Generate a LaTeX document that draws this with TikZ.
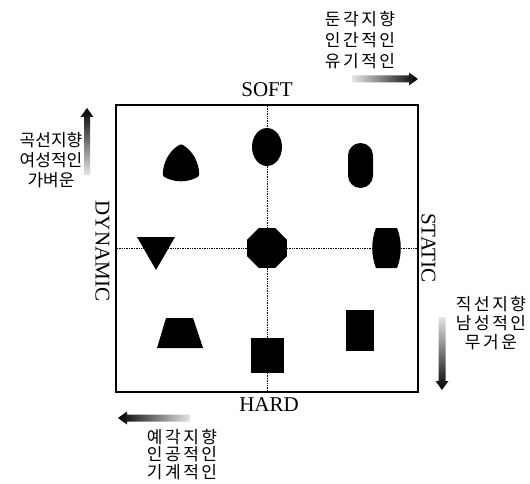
\documentclass[tikz,border=0pt]{standalone}
\usepackage{fontspec}
\setmainfont{Liberation Serif}
\newfontfamily\krA[LetterSpace=15]{Noto Sans CJK KR}
\newfontfamily\krB{Noto Sans CJK KR}
\usetikzlibrary{shapes.geometric}
\begin{document}
\begin{tikzpicture}[x=1pt,y=-1pt,
  lbl/.style={font=\fontsize{21}{21}\selectfont, inner sep=0pt},
  krt/.style={font=\krA\fontsize{17}{19}\selectfont, align=center, inner sep=0pt, anchor=north},
  blk/.style={fill=black, draw=none},
  gridline/.style={densely dotted, line width=0.7pt},
  frame/.style={draw, line width=1.4pt, inner sep=0pt}]
\useasboundingbox (0,0) rectangle (530,484);
% frame
\node[frame, minimum width=302pt, minimum height=287pt] (box) at (267,248.5) {};
\draw[gridline] (box.north) -- (box.south);
\draw[gridline] (box.west) -- (box.east);
% axis labels
\node[lbl, anchor=base] (soft) at (267,97) {SOFT};
\node[lbl, anchor=base] (hard) at (269,411) {HARD};
\node[lbl, rotate=-90] (dynamic) at (102.5,251) {DYNAMIC};
\node[lbl, rotate=-90] (static) at (428.5,248) {STATIC};
% korean texts
\node[krt] (tr) at (360,11) {둔각지향\\[2pt]인간적인\\[2pt]유기적인};
\node[krt, font=\krB\fontsize{17}{20}\selectfont] (tl) at (51,132) {곡선지향\\여성적인\\가벼운};
\node[krt] (br) at (491,296) {직선지향\\남성적인\\무거운};
\node[krt, font=\krA\fontsize{17}{17.5}\selectfont] (bl) at (182,429) {예각지향\\인공적인\\기계적인};
% gradient arrows
\shade[left color=gray!20, right color=black] (352,75.5) -- (409,75.5) -- (409,72.5) -- (418,79) -- (409,85.5) -- (409,82.5) -- (352,82.5) -- cycle;
\shade[top color=black, bottom color=gray!20] (84,175) -- (84,117) -- (80.5,117) -- (87,108) -- (93.5,117) -- (90,117) -- (90,175) -- cycle;
\shade[top color=gray!20, bottom color=black] (438.5,317) -- (438.5,381) -- (435.5,381) -- (442,390) -- (448.5,381) -- (445.5,381) -- (445.5,317) -- cycle;
\shade[left color=black, right color=gray!20] (190,414.5) -- (127,414.5) -- (127,411.5) -- (118,418) -- (127,424.5) -- (127,421.5) -- (190,421.5) -- cycle;
% shapes
\filldraw[line width=4pt, line join=round, scale around={0.9:(181,166)}] (181,144) .. controls (192.4,150.4) and (199,162.9) .. (199,176)
  .. controls (187.6,182.4) and (174.4,182.4) .. (163,176)
  .. controls (163,162.9) and (169.6,150.4) .. (181,144) -- cycle;
\fill (267,147) ellipse [x radius=15pt, y radius=19pt];
\fill[rounded corners=12.5pt] (348,143) rectangle (373,188);
\fill (137,237) -- (175,237) -- (156,270) -- cycle;
\node[regular polygon, regular polygon sides=8, blk, minimum size=43pt, inner sep=0pt] (oct) at (267,248) {};
\fill (376,228) -- (397,228) .. controls (402,240) and (402,256) .. (397,268) -- (376,268) .. controls (371,256) and (371,240) .. (376,228) -- cycle;
\fill (157,348) -- (203,348) -- (193,318) -- (166,318) -- cycle;
\fill (251,338) rectangle (284,373);
\fill (346,310) rectangle (374,351);
\end{tikzpicture}
\end{document}
